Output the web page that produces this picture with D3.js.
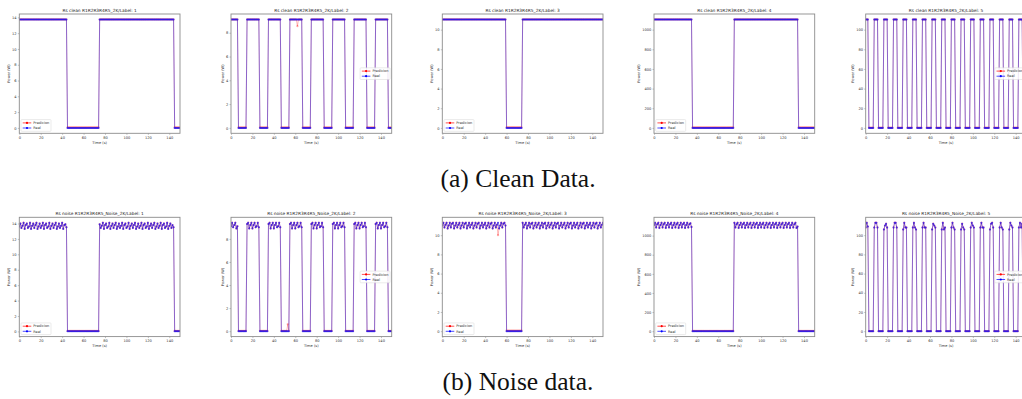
<!DOCTYPE html>
<html>
<head>
<meta charset="utf-8">
<script src="https://cdn.jsdelivr.net/npm/d3@7"></script>
<style>
  body { margin: 0; background: #fff; }
  svg { display: block; }
</style>
</head>
<body>
<svg id="fig" width="1022" height="399"></svg>
<script>
// ---- data: each series is a list of runs [level, samples] (1 sample per second from t = 0);
// a run whose first entry is an array lists its samples one by one.
const xTicks = [0, 20, 40, 60, 80, 100, 120, 140];
const yTicksSmall = [0, 2, 4, 6, 8, 10, 12, 14];
const yTicksTens = [0, 20, 40, 60, 80, 100];
const yTicksHundreds = [0, 200, 400, 600, 800, 1000];

const cleanTitles = [
  "Rs clean R1R2R3R4R5_2K/Label: 1", "Rs clean R1R2R3R4R5_2K/Label: 2",
  "Rs clean R1R2R3R4R5_2K/Label: 3", "Rs clean R1R2R3R4R5_2K/Label: 4",
  "Rs clean R1R2R3R4R5_2K/Label: 5"
];
const noiseTitles = [
  "Rs noise R1R2R3R4R5_Noise_2K/Label: 1", "Rs noise R1R2R3R4R5_Noise_2K/Label: 2",
  "Rs noise R1R2R3R4R5_Noise_2K/Label: 3", "Rs noise R1R2R3R4R5_Noise_2K/Label: 4",
  "Rs noise R1R2R3R4R5_Noise_2K/Label: 5"
];
const seriesNames = ["Predicion", "Real"];
const captions = ["(a) Clean Data.", "(b) Noise data."];

// clean data
const cleanReal1 = [[13.73, 45], [0, 30], [13.73, 70], [0, 6]];
const cleanPred1 = [[13.74, 45], [0.06, 30], [13.74, 70], [0.06, 6]];

const cleanReal2 = [[9.11, 7], [0, 8], [9.11, 12], [0, 8], [9.11, 12], [0, 8], [9.11, 12], [0, 8],
  [9.11, 12], [0, 8], [9.11, 12], [0, 8], [9.11, 12], [0, 8], [9.11, 12], [0, 4]];
const cleanPred2 = [[9.12, 7], [0.03, 8], [9.12, 12], [0.03, 8], [9.12, 12], [0.03, 8], [9.12, 7], [8.55, 1], [9.12, 4], [0.03, 8],
  [9.12, 12], [0.03, 8], [9.12, 12], [0.03, 8], [9.12, 12], [0.03, 8], [9.12, 12], [0.03, 4]];

const cleanReal3 = [[11.03, 60], [0, 15], [11.03, 76]];
const cleanPred3 = [[11.04, 60], [0.06, 15], [11.04, 76]];

const cleanReal4 = [[1103, 36], [0, 39], [1103, 60], [0, 16]];
const cleanPred4 = [[1104, 36], [4, 39], [1104, 60], [4, 16]];

const cleanReal5 = [[110.3, 3], [0, 5], [110.3, 4], [0, 5], [110.3, 4], [0, 5], [110.3, 4], [0, 5], [110.3, 4], [0, 5],
  [110.3, 4], [0, 5], [110.3, 4], [0, 5], [110.3, 4], [0, 5], [110.3, 4], [0, 5], [110.3, 4], [0, 5],
  [110.3, 4], [0, 5], [110.3, 4], [0, 5], [110.3, 4], [0, 5], [110.3, 4], [0, 5], [110.3, 4], [0, 5],
  [110.3, 4], [0, 5], [110.3, 4], [0, 4]];
const cleanPred5 = [[110.4, 3], [0.2, 5], [110.4, 4], [0.2, 5], [110.4, 4], [0.2, 5], [110.4, 4], [0.2, 5], [110.4, 4], [0.2, 5],
  [110.4, 4], [0.2, 5], [110.4, 4], [0.2, 5], [110.4, 4], [0.2, 5], [110.4, 4], [0.2, 5], [110.4, 4], [0.2, 5],
  [110.4, 4], [0.2, 5], [110.4, 4], [0.2, 5], [110.4, 4], [0.2, 5], [110.4, 4], [0.2, 5], [110.4, 4], [0.2, 5],
  [110.4, 4], [0.2, 5], [110.4, 4], [0.2, 4]];

// noisy data: plateau samples
const noiseHigh1a = [13.6, 14.0, 13.4, 13.7, 14.1, 13.3, 13.8, 14.0, 13.4, 13.6, 14.1, 13.3, 13.7, 14.0, 13.4,
  13.8, 14.1, 13.3, 13.6, 14.0, 13.4, 13.7, 14.1, 13.3, 13.8, 14.0, 13.4, 13.6, 14.1, 13.3,
  13.7, 14.0, 13.4, 13.8, 14.1, 13.3, 13.6, 14.0, 13.4, 13.7, 14.1, 13.3, 13.8, 13.9, 13.5];
const noiseHigh1b = [13.9, 13.4, 13.7, 14.1, 13.3, 13.8, 14.0, 13.4, 13.6, 14.1, 13.3, 13.7, 14.0, 13.4, 13.8,
  14.1, 13.3, 13.6, 14.0, 13.4, 13.7, 14.1, 13.3, 13.8, 14.0, 13.4, 13.6, 14.1, 13.3, 13.7,
  14.0, 13.4, 13.8, 14.1, 13.3, 13.6, 14.0, 13.4, 13.7, 14.1, 13.3, 13.8, 14.0, 13.4, 13.6,
  14.1, 13.3, 13.7, 14.0, 13.4, 13.8, 14.1, 13.3, 13.6, 14.0, 13.4, 13.7, 14.1, 13.3, 13.8,
  14.0, 13.4, 13.6, 14.1, 13.3, 13.7, 14.0, 13.4, 13.8, 13.5];
const noiseReal1 = [[noiseHigh1a], [0.03, 30], [noiseHigh1b], [0.03, 6]];
const noisePred1 = [[noiseHigh1a], [0.06, 30], [noiseHigh1b], [0.06, 6]];

const noiseHigh2 = [
  [9.1, 9.4, 9.0, 9.2, 9.4, 8.9, 9.1],
  [9.3, 9.4, 8.9, 9.2, 9.4, 8.9, 9.2, 9.4, 9.0, 9.1, 9.4, 9.0],
  [9.3, 9.4, 8.9, 9.2, 9.4, 8.9, 9.2, 9.4, 9.0, 9.1, 9.4, 9.0],
  [9.3, 9.4, 8.9, 9.2, 9.4, 8.9, 9.2, 9.4, 9.0, 9.1, 9.4, 9.0],
  [9.3, 9.4, 8.9, 9.2, 9.4, 8.9, 9.2, 9.4, 9.0, 9.1, 9.4, 9.0],
  [9.3, 9.4, 8.9, 9.2, 9.4, 8.9, 9.2, 9.4, 9.0, 9.1, 9.4, 9.0],
  [9.3, 9.4, 8.9, 9.2, 9.4, 8.9, 9.2, 9.4, 9.0, 9.1, 9.4, 9.0],
  [9.3, 9.4, 8.9, 9.2, 9.4, 8.9, 9.2, 9.4, 9.0, 9.1, 9.4, 9.0]
];
const noiseReal2 = [[noiseHigh2[0]], [0, 8], [noiseHigh2[1]], [0, 8], [noiseHigh2[2]], [0, 8], [noiseHigh2[3]], [0, 8],
  [noiseHigh2[4]], [0, 8], [noiseHigh2[5]], [0, 8], [noiseHigh2[6]], [0, 8], [noiseHigh2[7]], [0, 4]];
const noisePred2 = [[noiseHigh2[0]], [0.03, 8], [noiseHigh2[1]], [0.03, 8], [noiseHigh2[2]], [0.03, 6], [0.6, 1], [0.03, 1],
  [noiseHigh2[3]], [0.03, 8], [noiseHigh2[4]], [0.03, 8], [noiseHigh2[5]], [0.03, 8], [noiseHigh2[6]], [0.03, 8],
  [noiseHigh2[7]], [0.03, 4]];

const noiseHigh3a = [11.0, 11.3, 10.8, 11.1, 11.3, 10.7, 11.0, 11.3, 10.8, 11.2, 11.3, 10.7, 11.0, 11.3, 10.8,
  11.1, 11.3, 10.7, 11.0, 11.3, 10.8, 11.2, 11.3, 10.7, 11.0, 11.3, 10.8, 11.1, 11.3, 10.7,
  11.0, 11.3, 10.8, 11.2, 11.3, 10.7, 11.0, 11.3, 10.8, 11.1, 11.3, 10.7, 11.0, 11.3, 10.8,
  11.2, 11.3, 10.7, 11.0, 11.3, 10.8, 11.1, 11.3, 10.7, 11.0, 11.3, 10.8, 11.2, 11.3, 11.0];
const noiseHigh3b = [11.3, 10.8, 11.1, 11.3, 10.7, 11.0, 11.3, 10.8, 11.2, 11.3, 10.7, 11.0, 11.3, 10.8, 11.1,
  11.3, 10.7, 11.0, 11.3, 10.8, 11.2, 11.3, 10.7, 11.0, 11.3, 10.8, 11.1, 11.3, 10.7, 11.0,
  11.3, 10.8, 11.2, 11.3, 10.7, 11.0, 11.3, 10.8, 11.1, 11.3, 10.7, 11.0, 11.3, 10.8, 11.2,
  11.3, 10.7, 11.0, 11.3, 10.8, 11.1, 11.3, 10.7, 11.0, 11.3, 10.8, 11.2, 11.3, 10.7, 11.0,
  11.3, 10.8, 11.1, 11.3, 10.7, 11.0, 11.3, 10.8, 11.2, 11.3, 10.7, 11.0, 11.3, 10.8, 11.1, 11.3];
const noisePredDip3 = [10.0];
const noiseReal3 = [[noiseHigh3a], [0, 15], [noiseHigh3b]];
const noisePred3 = [[noiseHigh3a.slice(0, 52)], [noisePredDip3], [noiseHigh3a.slice(53)], [0.06, 15], [noiseHigh3b]];

const noiseHigh4a = [1110, 1135, 1085, 1120, 1135, 1080, 1110, 1135, 1085, 1120, 1135, 1080, 1110, 1135, 1085,
  1120, 1135, 1080, 1110, 1135, 1085, 1120, 1135, 1080, 1110, 1135, 1085, 1120, 1135, 1080,
  1110, 1135, 1085, 1120, 1130, 1090];
const noiseHigh4b = [1135, 1085, 1120, 1135, 1080, 1110, 1135, 1085, 1120, 1135, 1080, 1110, 1135, 1085, 1120,
  1135, 1080, 1110, 1135, 1085, 1120, 1135, 1080, 1110, 1135, 1085, 1120, 1135, 1080, 1110,
  1135, 1085, 1120, 1135, 1080, 1110, 1135, 1085, 1120, 1135, 1080, 1110, 1135, 1085, 1120,
  1135, 1080, 1110, 1135, 1085, 1120, 1135, 1080, 1110, 1135, 1085, 1120, 1135, 1080, 1095];
const noiseReal4 = [[noiseHigh4a], [0, 39], [noiseHigh4b], [0, 16]];
const noisePred4 = [[noiseHigh4a], [3, 39], [noiseHigh4b], [3, 16]];

const noiseHigh5 = [
  [108, 113, 109],
  [108, 113, 113, 108], [106, 110, 112, 108], [108, 113, 113, 108], [106, 113, 108, 108],
  [108, 113, 108, 106], [108, 113, 108, 108], [106, 112, 110, 108], [106, 113, 106, 108],
  [108, 113, 108, 106], [106, 112, 108, 106], [108, 113, 110, 108], [108, 113, 108, 108],
  [106, 112, 113, 108], [108, 113, 108, 106], [106, 113, 110, 108], [108, 113, 108, 112]
];
const noiseReal5 = [[noiseHigh5[0]], [0, 5], [noiseHigh5[1]], [0, 5], [noiseHigh5[2]], [0, 5], [noiseHigh5[3]], [0, 5],
  [noiseHigh5[4]], [0, 5], [noiseHigh5[5]], [0, 5], [noiseHigh5[6]], [0, 5], [noiseHigh5[7]], [0, 5],
  [noiseHigh5[8]], [0, 5], [noiseHigh5[9]], [0, 5], [noiseHigh5[10]], [0, 5], [noiseHigh5[11]], [0, 5],
  [noiseHigh5[12]], [0, 5], [noiseHigh5[13]], [0, 5], [noiseHigh5[14]], [0, 5], [noiseHigh5[15]], [0, 5],
  [noiseHigh5[16]], [0, 4]];
const noisePred5 = noiseReal5;

// ---- layout
const panelLeft = [19.3, 231, 442.3, 654, 865.7];
const panelTop = [14, 217.3];
const PW = 160.7, PH = 119.3;
const RED = "#ff0000", BLUE = "#0000ff";
const FONT = "'DejaVu Sans', sans-serif";

function decode(runs) {
  const out = [];
  runs.forEach(r => {
    if (Array.isArray(r[0])) out.push(...r[0]);
    else for (let k = 0; k < r[1]; k++) out.push(r[0]);
  });
  return out.map((v, i) => ({ t: i, v }));
}

const svg = d3.select("#fig");
const defs = svg.append("defs");

const panelSpecs = [
  [cleanTitles[0], cleanReal1, cleanPred1, yTicksSmall, "ll"],
  [cleanTitles[1], cleanReal2, cleanPred2, yTicksSmall, "cr"],
  [cleanTitles[2], cleanReal3, cleanPred3, yTicksSmall, "ll"],
  [cleanTitles[3], cleanReal4, cleanPred4, yTicksHundreds, "ll"],
  [cleanTitles[4], cleanReal5, cleanPred5, yTicksTens, "cr"],
  [noiseTitles[0], noiseReal1, noisePred1, yTicksSmall, "ll"],
  [noiseTitles[1], noiseReal2, noisePred2, yTicksSmall, "cr"],
  [noiseTitles[2], noiseReal3, noisePred3, yTicksSmall, "ll"],
  [noiseTitles[3], noiseReal4, noisePred4, yTicksHundreds, "ll"],
  [noiseTitles[4], noiseReal5, noisePred5, yTicksTens, "cr"]
];

panelSpecs.forEach((spec, idx) => {
  const [title, realRuns, predRuns, yTickVals, legendLoc] = spec;
  const row = Math.floor(idx / 5), col = idx % 5;
  const L = panelLeft[col], T = panelTop[row];
  const real = decode(realRuns), pred = decode(predRuns);

  const vals = real.concat(pred).map(d => d.v);
  const lo = d3.min(vals), hi = d3.max(vals), pad = (hi - lo) * 0.05;
  const x = d3.scaleLinear().domain([0, 150]).range([L, L + PW]);
  const y = d3.scaleLinear().domain([lo - pad, hi + pad]).range([T + PH, T]);
  const yTicksShown = yTickVals.filter(v => v >= lo - pad && v <= hi + pad);

  const g = svg.append("g");
  const clipId = "clip" + idx;
  defs.append("clipPath").attr("id", clipId)
    .append("rect").attr("x", L).attr("y", T).attr("width", PW).attr("height", PH);

  const plot = g.append("g").attr("clip-path", `url(#${clipId})`);
  const line = d3.line().x(d => x(d.t)).y(d => y(d.v));

  // prediction below, real above
  plot.append("path").datum(pred).attr("d", line)
    .attr("fill", "none").attr("stroke", RED).attr("stroke-width", 0.55).attr("stroke-opacity", 0.5);
  plot.append("g").selectAll("circle").data(pred).join("circle")
    .attr("cx", d => x(d.t)).attr("cy", d => y(d.v)).attr("r", 1.15)
    .attr("fill", RED).attr("fill-opacity", 0.3);
  plot.append("path").datum(real).attr("d", line)
    .attr("fill", "none").attr("stroke", "#1c10d8").attr("stroke-width", 0.6).attr("stroke-opacity", 0.85);
  plot.append("g").selectAll("circle").data(real).join("circle")
    .attr("cx", d => x(d.t)).attr("cy", d => y(d.v)).attr("r", 1.0)
    .attr("fill", "#2a16e8").attr("fill-opacity", 0.8);

  // axes
  const xAxis = g.append("g").attr("transform", `translate(0,${T + PH})`)
    .call(d3.axisBottom(x).tickValues(xTicks).tickSize(1.5).tickPadding(1.2));
  const yAxis = g.append("g").attr("transform", `translate(${L},0)`)
    .call(d3.axisLeft(y).tickValues(yTicksShown).tickFormat(d3.format("d")).tickSize(1.5).tickPadding(1.2));
  [xAxis, yAxis].forEach(a => {
    a.select(".domain").remove();
    a.selectAll("line").attr("stroke", "#666").attr("stroke-width", 0.4);
    a.selectAll("text").attr("font-family", FONT).attr("font-size", 3.6).attr("fill", "#333");
  });

  // frame
  g.append("rect").attr("x", L).attr("y", T).attr("width", PW).attr("height", PH)
    .attr("fill", "none").attr("stroke", "#8c8c8c").attr("stroke-width", 0.9);

  // title and axis labels
  g.append("text").attr("x", L + PW / 2).attr("y", T - 2.2).attr("text-anchor", "middle")
    .attr("font-family", FONT).attr("font-size", 4.3).attr("fill", "#222").text(title);
  g.append("text").attr("x", L + PW / 2).attr("y", T + PH + 10.2).attr("text-anchor", "middle")
    .attr("font-family", FONT).attr("font-size", 3.6).attr("fill", "#333").text("Time (s)");
  let maxW = 0;
  yAxis.selectAll("text").each(function () { maxW = Math.max(maxW, this.getComputedTextLength()); });
  const ylx = L - 1.5 - 1.2 - maxW - 2.2;
  g.append("text").attr("transform", `translate(${ylx},${T + PH / 2}) rotate(-90)`)
    .attr("text-anchor", "middle").attr("font-family", FONT).attr("font-size", 3.6).attr("fill", "#333")
    .text("Power (W)");

  // legend
  const bw = 30, bh = 11.7;
  const bx = legendLoc === "ll" ? L + 1.7 : L + PW - 1.6 - bw;
  const by = legendLoc === "ll" ? T + PH - 2 - bh : T + PH / 2 - bh / 2;
  const lg = g.append("g");
  lg.append("rect").attr("x", bx).attr("y", by).attr("width", bw).attr("height", bh).attr("rx", 0.8)
    .attr("fill", "#fff").attr("fill-opacity", 0.85).attr("stroke", "#d6d6d6").attr("stroke-width", 0.5);
  [[seriesNames[0], RED], [seriesNames[1], BLUE]].forEach(([name, c], i) => {
    const ly = by + 3.3 + i * 5.1;
    lg.append("line").attr("x1", bx + 1.7).attr("x2", bx + 10.3).attr("y1", ly).attr("y2", ly)
      .attr("stroke", c).attr("stroke-width", 0.7);
    lg.append("circle").attr("cx", bx + 6).attr("cy", ly).attr("r", 1.1).attr("fill", c);
    lg.append("text").attr("x", bx + 12.3).attr("y", ly).attr("dy", "0.35em")
      .attr("font-family", FONT).attr("font-size", 3.5).attr("fill", "#333").text(name);
  });
});

// sub-figure captions
svg.append("text").attr("x", 518).attr("y", 186.5).attr("text-anchor", "middle")
  .attr("font-family", "'Liberation Serif', 'Times New Roman', serif").attr("font-size", 25.5)
  .attr("fill", "#111").text(captions[0]);
svg.append("text").attr("x", 518).attr("y", 390).attr("text-anchor", "middle")
  .attr("font-family", "'Liberation Serif', 'Times New Roman', serif").attr("font-size", 25.5)
  .attr("fill", "#111").text(captions[1]);
</script>
</body>
</html>
